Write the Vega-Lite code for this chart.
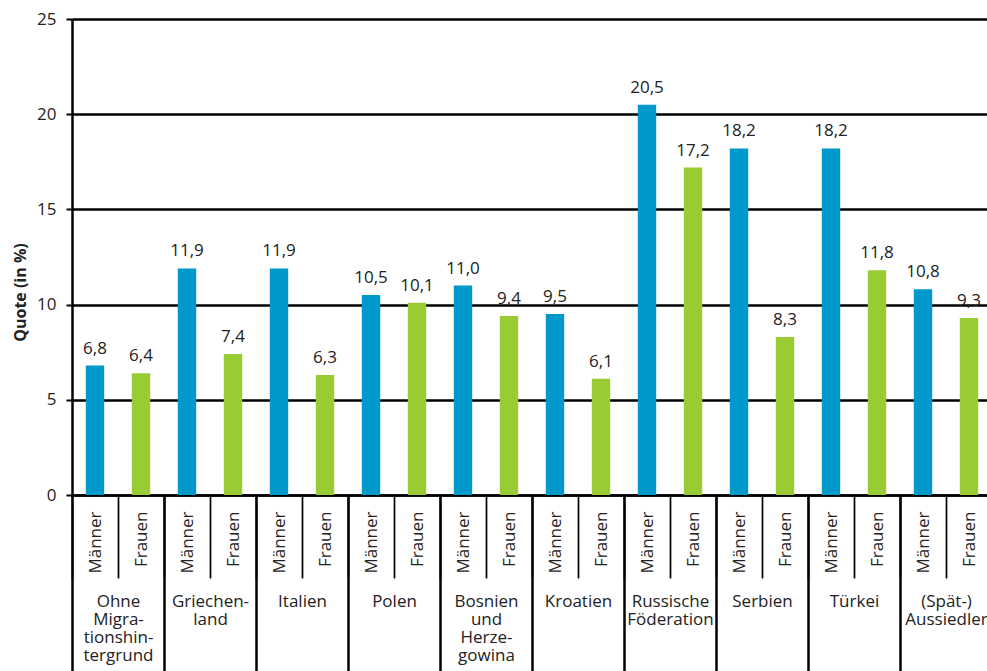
{
  "$schema": "https://vega.github.io/schema/vega-lite/v6.json",
  "width": 915,
  "height": 476,
  "autosize": {"type": "none"},
  "padding": {"left": 72, "top": 19, "right": 0, "bottom": 176},
  "background": "white",
  "config": {
    "view": {"stroke": null},
    "font": "Open Sans",
    "locale": {"number": {"decimal": ",", "thousands": ".", "grouping": [3], "currency": ["", " €"]}}
  },
  "data": {
    "values": [
      {"g": "Ohne|Migra-|tionshin-|tergrund", "k": "01|Männer", "sex": "Männer", "v": 6.8},
      {"g": "Ohne|Migra-|tionshin-|tergrund", "k": "01|Frauen", "sex": "Frauen", "v": 6.4},
      {"g": "Griechen-|land", "k": "02|Männer", "sex": "Männer", "v": 11.9},
      {"g": "Griechen-|land", "k": "02|Frauen", "sex": "Frauen", "v": 7.4},
      {"g": "Italien", "k": "03|Männer", "sex": "Männer", "v": 11.9},
      {"g": "Italien", "k": "03|Frauen", "sex": "Frauen", "v": 6.3},
      {"g": "Polen", "k": "04|Männer", "sex": "Männer", "v": 10.5},
      {"g": "Polen", "k": "04|Frauen", "sex": "Frauen", "v": 10.1},
      {"g": "Bosnien|und|Herze-|gowina", "k": "05|Männer", "sex": "Männer", "v": 11.0},
      {"g": "Bosnien|und|Herze-|gowina", "k": "05|Frauen", "sex": "Frauen", "v": 9.4},
      {"g": "Kroatien", "k": "06|Männer", "sex": "Männer", "v": 9.5},
      {"g": "Kroatien", "k": "06|Frauen", "sex": "Frauen", "v": 6.1},
      {"g": "Russische|Föderation", "k": "07|Männer", "sex": "Männer", "v": 20.5},
      {"g": "Russische|Föderation", "k": "07|Frauen", "sex": "Frauen", "v": 17.2},
      {"g": "Serbien", "k": "08|Männer", "sex": "Männer", "v": 18.2},
      {"g": "Serbien", "k": "08|Frauen", "sex": "Frauen", "v": 8.3},
      {"g": "Türkei", "k": "09|Männer", "sex": "Männer", "v": 18.2},
      {"g": "Türkei", "k": "09|Frauen", "sex": "Frauen", "v": 11.8},
      {"g": "(Spät-)|Aussiedler", "k": "10|Männer", "sex": "Männer", "v": 10.8},
      {"g": "(Spät-)|Aussiedler", "k": "10|Frauen", "sex": "Frauen", "v": 9.3}
    ]
  },
  "layer": [
    {
      "encoding": {
        "x": {
          "field": "k",
          "type": "nominal",
          "sort": null,
          "scale": {"range": [0, 920], "paddingInner": 0, "paddingOuter": 0},
          "axis": {
            "orient": "bottom",
            "title": null,
            "labelAngle": -90,
            "labelAlign": "right",
            "labelBaseline": "middle",
            "labelExpr": "split(datum.label, '|')[1]",
            "tickBand": "extent",
            "tickSize": 83,
            "tickWidth": 1.7,
            "tickColor": "black",
            "labelPadding": -67,
            "labelFontSize": 17,
            "labelColor": "#222222",
            "labelOverlap": false,
            "domainColor": "black",
            "domainWidth": 2.5
          }
        },
        "y": {
          "field": "v",
          "type": "quantitative",
          "scale": {"domain": [0, 25], "nice": false},
          "axis": {
            "title": "Quote (in %)",
            "values": [0, 5, 10, 15, 20, 25],
            "grid": true,
            "gridColor": "black",
            "gridWidth": 2.5,
            "gridOpacity": 1,
            "domainColor": "black",
            "domainWidth": 2.5,
            "tickColor": "black",
            "tickSize": 6,
            "tickWidth": 2,
            "labelFontSize": 17,
            "labelPadding": 10,
            "labelColor": "#222222",
            "titleFontSize": 16,
            "titleFontWeight": "bold",
            "titleColor": "#222222",
            "titleX": -52,
            "titleY": 273,
            "titleAlign": "center",
            "titleBaseline": "middle"
          }
        }
      },
      "layer": [
        {
          "mark": {"type": "bar", "width": {"band": 0.4}},
          "encoding": {
            "color": {
              "field": "sex",
              "type": "nominal",
              "scale": {"domain": ["Männer", "Frauen"], "range": ["#0099cc", "#99cc33"]},
              "legend": null
            }
          }
        },
        {
          "mark": {"type": "text", "dy": -12, "baseline": "alphabetic", "fontSize": 17, "color": "#222222"},
          "encoding": {"text": {"field": "v", "type": "quantitative", "format": ".1f"}}
        }
      ]
    },
    {
      "mark": {"type": "rule", "opacity": 0},
      "encoding": {
        "x": {
          "field": "g",
          "type": "nominal",
          "sort": null,
          "scale": {"range": [0, 920], "paddingInner": 0, "paddingOuter": 0},
          "axis": {
            "orient": "bottom",
            "title": null,
            "domain": false,
            "labelAngle": 0,
            "labelAlign": "center",
            "labelBaseline": "top",
            "labelExpr": "split(datum.label, '|')",
            "tickBand": "extent",
            "tickSize": 176,
            "tickWidth": 2.5,
            "tickColor": "black",
            "labelPadding": -78,
            "labelFontSize": 17,
            "labelLineHeight": 18,
            "labelColor": "#222222",
            "labelOverlap": false
          }
        }
      }
    }
  ],
  "resolve": {"scale": {"x": "independent"}, "axis": {"x": "independent"}}
}
